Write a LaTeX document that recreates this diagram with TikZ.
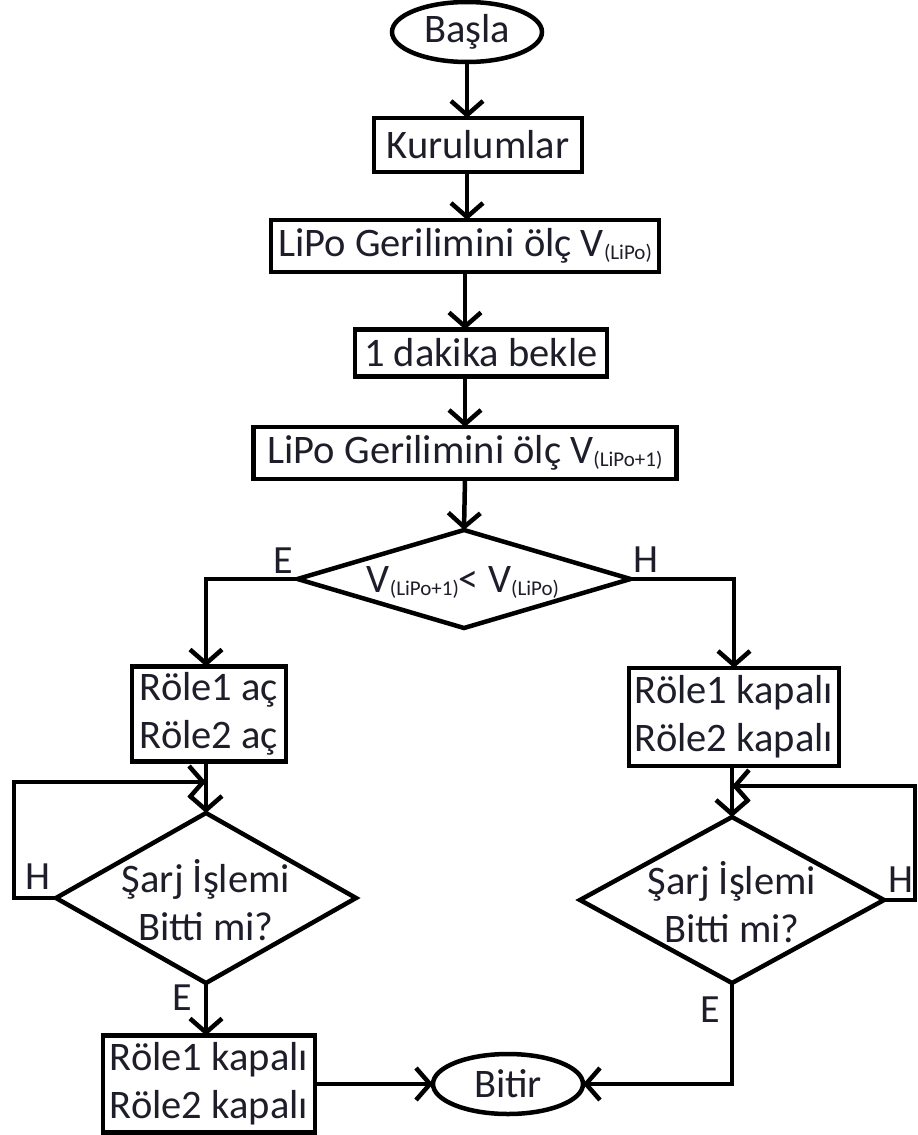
\documentclass[tikz,border=0pt]{standalone}
\usepackage{fontspec}
\setmainfont{Carlito}
\usetikzlibrary{shapes.geometric,arrows.meta}
\definecolor{txtc}{HTML}{1E1E2A}
\newcommand{\subsc}[1]{\raisebox{-3pt}{\fontsize{21}{21}\selectfont(#1)}}
\begin{document}
\begin{tikzpicture}[x=1pt,y=-1pt,line width=4.5pt,
  box/.style={draw,rectangle,inner sep=0pt,outer sep=0pt,align=center,text=txtc,font=\fontsize{40.5}{48}\selectfont},
  term/.style={draw,ellipse,inner sep=0pt,outer sep=0pt},
  dec/.style={draw,diamond,inner sep=0pt,outer sep=0pt},
  txt/.style={inner sep=0pt,align=center,text=txtc,font=\fontsize{40.5}{48}\selectfont},
  lbl/.style={inner sep=0pt,text=txtc,font=\fontsize{40}{40}\selectfont},
  arr/.style={-{Straight Barb[length=14pt,width=32pt]}}]
\useasboundingbox (0,0) rectangle (918,1135);
% nodes
\node[term,minimum width=150pt,minimum height=60pt] (start) at (467,32) {};
\node[txt] (starttxt) at (start) {Başla};
\node[box,minimum width=208pt,minimum height=54pt] (kur) at (478,145) {Kurulumlar};
\node[box,minimum width=388pt,minimum height=52pt] (m1) at (465,246) {LiPo Gerilimini ölç V\subsc{LiPo}};
\node[box,minimum width=252pt,minimum height=47pt] (wait) at (481,353) {1 dakika bekle};
\node[box,minimum width=423pt,minimum height=52pt] (m2) at (465,453) {LiPo Gerilimini ölç V\subsc{LiPo+1}};
\node[dec,minimum width=333pt,minimum height=98pt] (d1) at (464,579) {};
\node[txt] (d1txt) at (463,582) {V\subsc{LiPo+1}< V\subsc{LiPo}};
\node[box,minimum width=154pt,minimum height=95pt] (r1) at (209,714) {Röle1 aç\\Röle2 aç};
\node[box,minimum width=210pt,minimum height=98pt] (r2) at (734,717) {Röle1 kapalı\\Röle2 kapalı};
\node[dec,minimum width=300pt,minimum height=170pt] (d2) at (206,898) {};
\node[txt] (d2txt) at (206,900) {Şarj İşlemi\\Bitti mi?};
\node[dec,minimum width=304pt,minimum height=166pt] (d3) at (732,900) {};
\node[txt] (d3txt) at (732,902) {Şarj İşlemi\\Bitti mi?};
\node[box,minimum width=212pt,minimum height=97pt] (e1) at (209,1084) {Röle1 kapalı\\Röle2 kapalı};
\node[term,minimum width=150pt,minimum height=60pt] (stop) at (508,1084) {};
\node[txt] (stoptxt) at (stop) {Bitir};
% labels
\node[lbl] (lE1) at (283,561) {E};
\node[lbl] (lH1) at (646,560) {H};
\node[lbl] (lH2) at (38,877) {H};
\node[lbl] (lE2) at (182,998) {E};
\node[lbl] (lH3) at (901,880) {H};
\node[lbl] (lE3) at (710,1010) {E};
% coordinates
\coordinate (lpT) at (14,782);
\coordinate (rpT) at (915,786);
% connectors
\draw[arr] (start.south) -- (start.south |- kur.north);
\draw[arr] (start.south |- kur.south) -- (start.south |- m1.north);
\draw[arr] (m1.south) -- (m1.south |- wait.north);
\draw[arr] (m1.south |- wait.south) -- (m2.north);
\draw[arr] (m2.south) -- (d1.north);
\draw[arr] (d1.west) -| (d2.north |- r1.north);
\draw[arr] (d1.east) -| (r2.north);
\draw[arr] (d2.north |- r1.south) -- (d2.north);
\draw[arr] (d2.west) -| (lpT) -- (lpT -| d2.north);
\draw[arr] (d2.south) -- (d2.south |- e1.north);
\draw[arr] (e1.east) -- (stop.west);
\draw[arr] (d3.north |- r2.south) -- (d3.north);
\draw[arr] (d3.east) -| (rpT) -- (rpT -| d3.north);
\draw[arr] (d3.south) |- (stop.east);
\end{tikzpicture}
\end{document}
